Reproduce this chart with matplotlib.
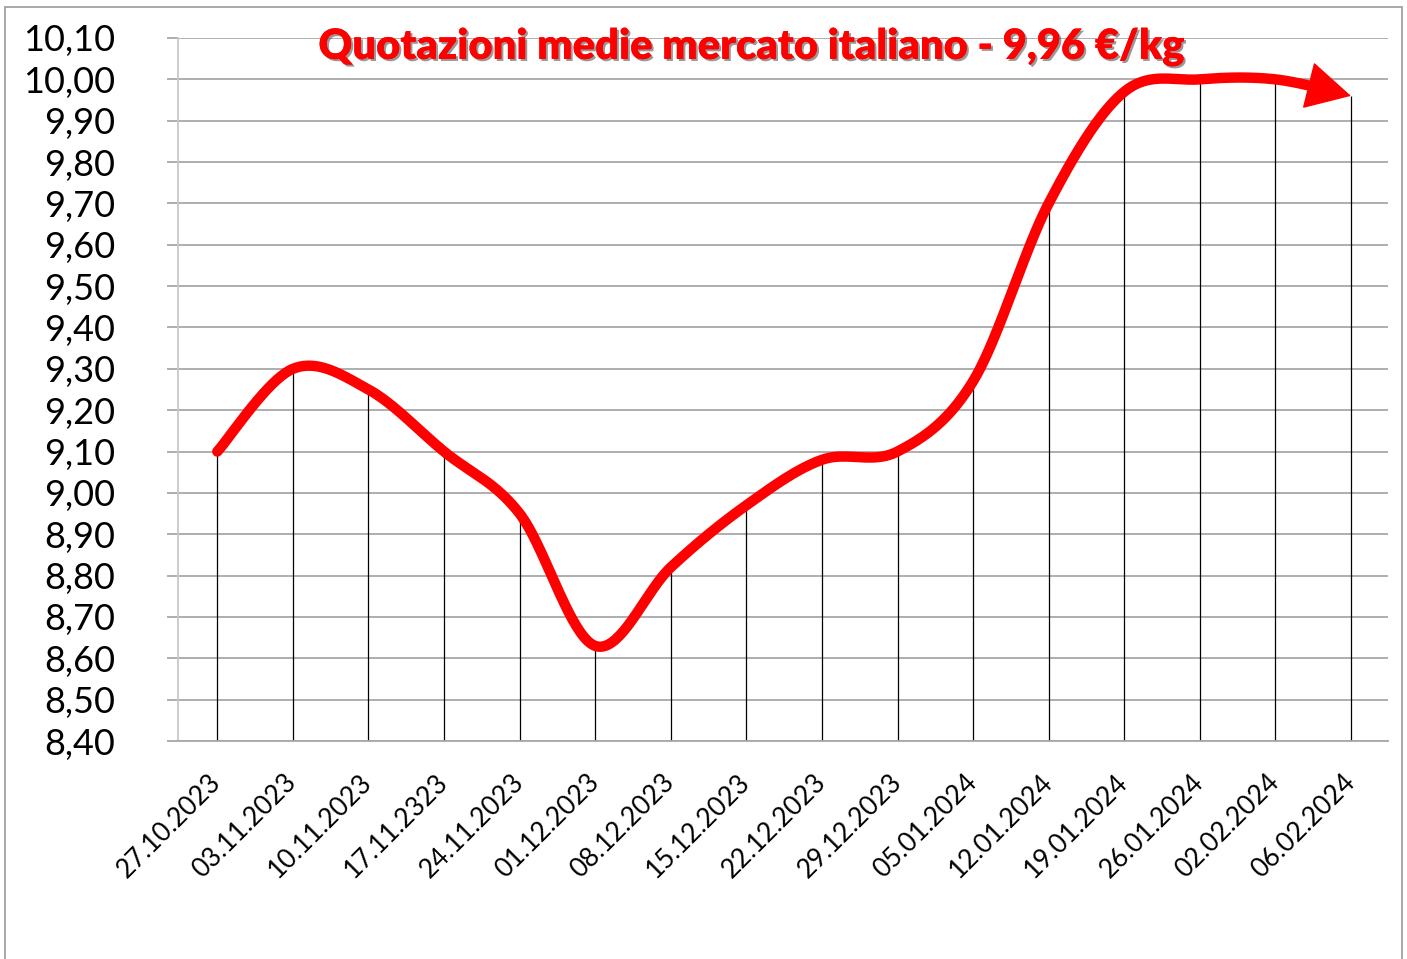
import numpy as np
import matplotlib
matplotlib.use('Agg')
import matplotlib.pyplot as plt
from matplotlib import patheffects
from matplotlib.patches import Rectangle
from matplotlib.ticker import MultipleLocator, FuncFormatter

plt.rcParams['font.family'] = ['Lato', 'DejaVu Sans']

DATES = ['27.10.2023', '03.11.2023', '10.11.2023', '17.11.2323', '24.11.2023',
         '01.12.2023', '08.12.2023', '15.12.2023', '22.12.2023', '29.12.2023',
         '05.01.2024', '12.01.2024', '19.01.2024', '26.01.2024', '02.02.2024',
         '06.02.2024']
PRICES = [9.10, 9.30, 9.25, 9.10, 8.95, 8.63, 8.82, 8.97, 9.08, 9.10,
          9.27, 9.70, 9.97, 10.00, 10.00, 9.96]
TITLE = 'Quotazioni medie mercato italiano - 9,96 €/kg'

RED = '#ff0000'
GRID = '#a8a8a8'


def smooth_curve(xs, ys, n=40):
    # excel-like smoothed line (bezier with 1/6 tangents)
    pts = np.column_stack([xs, ys])
    p = np.vstack([pts[0], pts, pts[-1]])
    out = []
    t = np.linspace(0, 1, n, endpoint=False)[:, None]
    for i in range(1, len(p) - 2):
        p0, p1, p2, p3 = p[i - 1], p[i], p[i + 1], p[i + 2]
        c1 = p1 + (p2 - p0) / 6
        c2 = p2 - (p3 - p1) / 6
        seg = ((1 - t) ** 3 * p1 + 3 * (1 - t) ** 2 * t * c1
               + 3 * (1 - t) * t ** 2 * c2 + t ** 3 * p2)
        out.append(seg)
    out.append(pts[-1:])
    return np.vstack(out)


fig = plt.figure(figsize=(14.07, 9.59), dpi=100)
ax = fig.add_axes([178 / 1407, 1 - 741 / 959, (1388 - 178) / 1407, (741 - 38) / 959])

# outer frame
fig.patches.append(Rectangle((5 / 1407, -0.1), (1402 - 5) / 1407, 1.1 - 7 / 959,
                             transform=fig.transFigure, fill=False,
                             edgecolor='#9a9a9a', lw=1.2))

xs = np.arange(len(PRICES))

ax.set_xlim(-0.52, 15.49)
ax.set_ylim(8.40, 10.10)
ax.yaxis.set_major_locator(MultipleLocator(0.1))
ax.yaxis.set_major_formatter(FuncFormatter(lambda v, p: f'{v:.2f}'.replace('.', ',')))
ax.grid(True, axis='y', color=GRID, lw=1.3)
ax.set_axisbelow(True)

# drop lines
ax.vlines(xs, 8.40, PRICES, color='black', lw=0.9, zorder=2)

curve = smooth_curve(xs, PRICES)
cut = curve[:, 0] <= 14.5
ax.plot(curve[cut, 0], curve[cut, 1], color=RED, lw=7.5,
        solid_capstyle='round', zorder=3)
tail = curve[cut][-1]
ax.annotate('', xy=(xs[-1], PRICES[-1]), xytext=(tail[0], tail[1]),
            arrowprops=dict(arrowstyle='-|>,head_length=1.5,head_width=0.8',
                            mutation_scale=20, color=RED, lw=1,
                            shrinkA=0, shrinkB=0), zorder=4)

ax.set_xticks(xs)
ax.set_xticklabels(DATES, rotation=45, ha='right', va='center',
                   rotation_mode='anchor', fontsize=19)
ax.tick_params(axis='x', length=0, pad=27)
ax.tick_params(axis='y', length=8, color=GRID, width=1.3, pad=37, labelsize=26)

for s in ['top', 'right']:
    ax.spines[s].set_visible(False)
ax.spines['left'].set_color('#c8c8c8')
ax.spines['left'].set_linewidth(1.3)
ax.spines['bottom'].set_color(GRID)
ax.spines['bottom'].set_linewidth(1.3)

ax.text(0.473, 0.987, TITLE, transform=ax.transAxes, ha='center', va='center',
        fontsize=30, fontweight='heavy', color=RED,
        path_effects=[patheffects.withSimplePatchShadow(offset=(1.5, -1.5),
                                                        shadow_rgbFace='#555555',
                                                        alpha=0.6),
                      patheffects.Normal()])

fig.savefig('out.png', dpi=100)
